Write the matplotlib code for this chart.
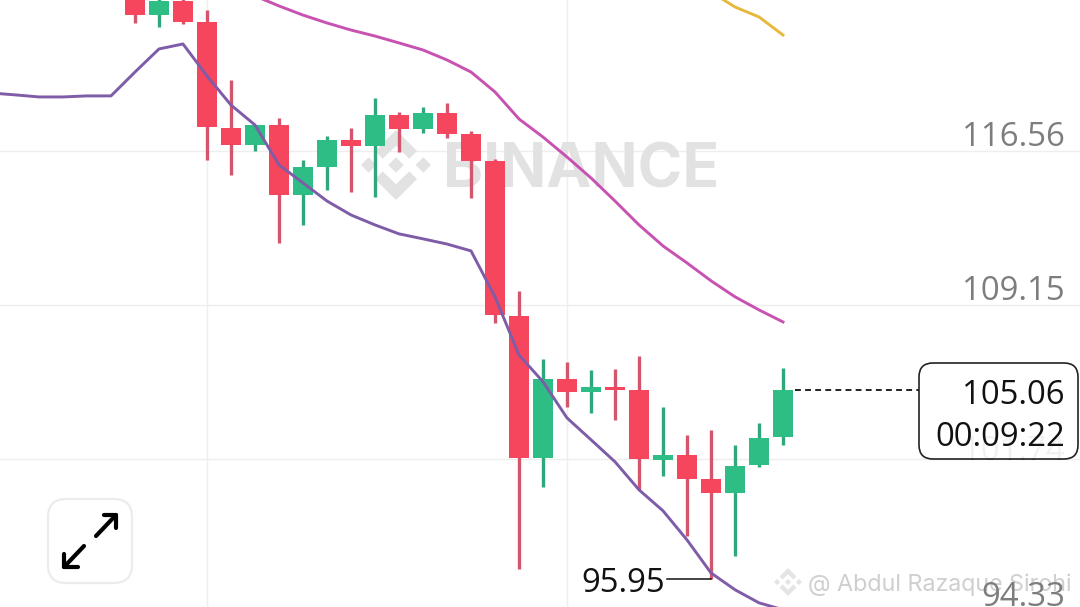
from __future__ import annotations

import matplotlib as mpl
mpl.use('Agg')
import matplotlib.pyplot as plt
from matplotlib.patches import FancyBboxPatch, Polygon
from matplotlib.transforms import Affine2D

W, H = 1080, 607

# candles, first one is index 0
opens = [124.07, 123.10, 123.78, 122.77, 117.67, 116.85, 117.81, 114.44, 115.79, 117.09,
         116.80, 118.29, 117.62, 118.39, 117.38, 116.08, 108.62, 101.79, 105.59, 104.96,
         105.20, 105.06, 101.69, 101.93, 100.78, 100.10, 101.45, 102.80]
highs = [124.16, 123.92, 123.87, 123.35, 119.98, 117.81, 118.15, 116.13, 117.28, 117.67,
         119.11, 118.44, 118.68, 118.87, 117.52, 116.18, 109.82, 106.55, 106.41, 106.03,
         106.07, 106.70, 104.24, 102.90, 103.14, 102.41, 103.47, 106.12]
lows = [122.72, 122.53, 122.67, 116.13, 115.41, 116.56, 112.13, 113.00, 114.68, 114.59,
        114.35, 116.51, 117.43, 117.19, 114.30, 108.28, 96.45, 100.39, 104.24, 103.95,
        103.62, 100.25, 100.92, 98.03, 95.95, 97.07, 101.36, 102.41]
closes = [123.10, 123.78, 122.77, 117.72, 116.85, 117.81, 114.44, 115.79, 117.09, 116.80,
          118.29, 117.62, 118.39, 117.38, 116.08, 108.67, 101.79, 105.59, 104.96, 105.20,
          105.06, 101.74, 101.93, 100.78, 100.10, 101.40, 102.75, 105.06]

# moving averages, each with the candle index where it starts
purple_start = -6
purple = [119.35, 119.26, 119.16, 119.16, 119.21, 119.21, 120.36, 121.47, 121.71, 120.17,
          118.77, 117.81, 115.89, 115.02, 114.15, 113.48, 113.00, 112.57, 112.33, 112.08,
          111.75, 109.54, 106.74, 105.45, 103.71, 102.66, 101.60, 100.25, 99.24, 97.84,
          96.25, 95.44, 94.81, 94.48]
pink_start = 5
pink = [124.02, 123.54, 123.10, 122.72, 122.38, 122.09, 121.76, 121.42, 120.94, 120.36,
        119.40, 118.10, 117.23, 116.27, 115.26, 114.15, 113.00, 111.99, 111.17, 110.31,
        109.54, 108.91, 108.33]
yellow_start = 24
yellow = [124.21, 123.49, 123.01, 122.14]

price_ticks = [116.56, 109.15, 101.74, 94.33]
time_ticks = [3, 18]
last_price = 105.06
countdown = '00:09:22'
low_price = 95.95
low_index = 24

RED, RED_WICK = '#f6465d', '#d4566c'
GREEN, GREEN_WICK = '#2ebd85', '#30a87c'
GRID = '#eeeeee'
LABEL = '#7d7d7d'
WATERMARK = '#e2e2e2'
NUM_FONT = ['Open Sans', 'DejaVu Sans']
NUM_SIZE = 23.7

plt.rcParams['font.family'] = ['Inter', 'DejaVu Sans']

fig = plt.figure(figsize=(W / 100, H / 100), dpi=100)
ax = fig.add_axes([0, 0, 1, 1])
ax.set_xlim(-5.625, 39.375)
ax.set_ylim(94.61, 123.826)
ax.axis('off')

# decoration is placed in screen pixels, y down
px = Affine2D().scale(1 / W, -1 / H).translate(0, 1) + fig.transFigure


def draw_logo(cx, cy, size, color, zorder):
    shapes = [
        [(0, 1), (.6, .4), (.38, .18), (0, .55), (-.38, .18), (-.6, .4)],
        [(0, -1), (.6, -.4), (.38, -.18), (0, -.55), (-.38, -.18), (-.6, -.4)],
        [(0, .22), (.22, 0), (0, -.22), (-.22, 0)],
        [(.78, .22), (1, 0), (.78, -.22), (.56, 0)],
        [(-.78, .22), (-.56, 0), (-.78, -.22), (-1, 0)],
    ]
    for pts in shapes:
        xy = [(cx + a * size, cy - b * size) for a, b in pts]
        ax.add_patch(Polygon(xy, closed=True, fc=color, ec='none', transform=px, zorder=zorder))


# grid
for p in price_ticks[:3]:
    ax.axhline(p, color=GRID, lw=1.0, zorder=1)
for t in time_ticks:
    ax.axvline(t, color=GRID, lw=1.0, zorder=1)

# watermark
draw_logo(396, 165, 35, WATERMARK, 2)
ax.text(443, 165, 'BINANCE', transform=px, fontsize=43.6, fontweight='bold', color=WATERMARK,
        ha='left', va='center_baseline', zorder=2)

# candles
for i, (o, h, l, c) in enumerate(zip(opens, highs, lows, closes)):
    up = c >= o
    ax.vlines(i, l, h, color=GREEN_WICK if up else RED_WICK, lw=2.4, zorder=3)
    ax.bar(i, abs(c - o), bottom=min(o, c), width=0.87, color=GREEN if up else RED, zorder=4)

# moving averages
for start, vals, color in [(purple_start, purple, '#7f5ca8'),
                           (pink_start, pink, '#c752b2'),
                           (yellow_start, yellow, '#e6b83c')]:
    ax.plot(range(start, start + len(vals)), vals, color=color, lw=2.1, zorder=5,
            solid_joinstyle='round')

# price axis labels
label_y = [134, 288, 447, 594]
for p, y in zip(price_ticks, label_y):
    ax.text(1065, y, f'{p:.2f}', transform=px, fontsize=NUM_SIZE, color=LABEL, family=NUM_FONT,
            ha='right', va='center_baseline', zorder=6)

# small user watermark
draw_logo(788, 582, 14, '#e4e4e4', 5)
ax.text(808, 582, '@ Abdul Razaque Sirohi', transform=px, fontsize=16.8, color='#cfcfcf',
        ha='left', va='center_baseline', zorder=5)

# last price line and box
ax.plot([len(opens) - 1 + 0.5, 39.375 - 161 / 24], [last_price, last_price], color='#222222',
        lw=1.4, dashes=(3, 2.2), zorder=6)
ax.add_patch(FancyBboxPatch((919 + 14, 363 + 14), 159 - 28, 96 - 28,
                            boxstyle='round,pad=14,rounding_size=14', fc=(1, 1, 1, 0.9),
                            ec='#222222', lw=1.2, transform=px, zorder=7))
ax.text(1065, 391, f'{last_price:.2f}', transform=px, fontsize=NUM_SIZE, color='#111111',
        family=NUM_FONT, ha='right', va='center_baseline', zorder=8)
ax.text(1065, 433, countdown, transform=px, fontsize=NUM_SIZE, color='#111111',
        family=NUM_FONT, ha='right', va='center_baseline', zorder=8)

# low marker
ax.plot([low_index - 44 / 24, low_index], [low_price, low_price], color='#111111', lw=1.1, zorder=6)
ax.text(665, 580, f'{low_price:.2f}', transform=px, fontsize=NUM_SIZE, color='#111111',
        family=NUM_FONT, ha='right', va='center_baseline', zorder=8)

# expand button
ax.add_patch(FancyBboxPatch((48 + 18, 499 + 18), 84 - 36, 84 - 36,
                            boxstyle='round,pad=18,rounding_size=18', fc='white',
                            ec='#ececec', lw=1.6, transform=px, zorder=6))
for seg in [[(96, 536), (116, 515)], [(104, 515), (116, 515), (116, 528)],
            [(84, 546), (64, 567)], [(64, 554), (64, 567), (78, 567)]]:
    ax.plot(*zip(*seg), color='black', lw=3.0, transform=px, zorder=7,
            solid_capstyle='round', solid_joinstyle='round')

fig.savefig('out.png', dpi=100)
